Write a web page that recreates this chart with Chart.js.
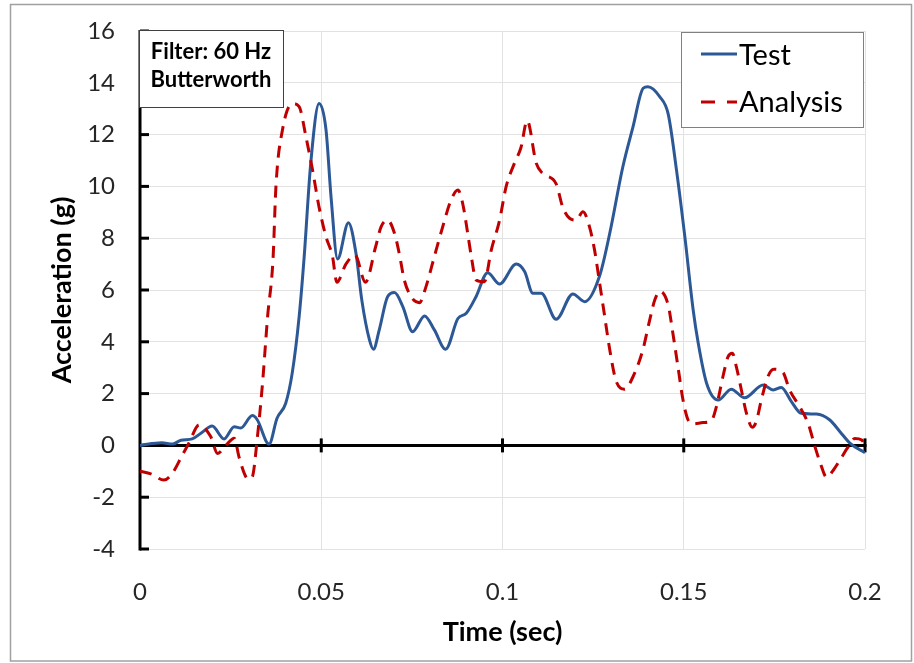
<!DOCTYPE html>
<html><head><meta charset="utf-8">
<script src="https://cdn.jsdelivr.net/npm/chart.js@4.4.0/dist/chart.umd.min.js"></script>
<style>html,body{margin:0;padding:0;background:#fff;}#wrap{width:914px;height:663px;position:relative;}</style>
</head><body><div id="wrap"><canvas id="c" width="914" height="663"></canvas></div>
<script>
// ---- data ----
const testTime = [0, 0.006, 0.009, 0.0113, 0.0144, 0.0168, 0.0199, 0.0232, 0.026, 0.0278, 0.031, 0.0323, 0.0356, 0.0378, 0.0402, 0.042, 0.0439, 0.0453, 0.0471, 0.0494, 0.0513, 0.0527, 0.0545, 0.0575, 0.0596, 0.0612, 0.0633, 0.0644, 0.066, 0.0683, 0.0702, 0.0725, 0.0752, 0.0785, 0.0812, 0.0843, 0.0877, 0.09, 0.0927, 0.0959, 0.0992, 0.1038, 0.1061, 0.1084, 0.1107, 0.1148, 0.1194, 0.1227, 0.1268, 0.1296, 0.1332, 0.136, 0.1388, 0.1401, 0.1434, 0.1457, 0.148, 0.1503, 0.1526, 0.154, 0.1563, 0.1595, 0.1631, 0.1668, 0.1719, 0.1747, 0.1769, 0.1797, 0.1824, 0.1866, 0.1903, 0.1931, 0.1959, 0.2];
const testAccel = [0, 0.1, 0.05, 0.2, 0.25, 0.47, 0.75, 0.25, 0.72, 0.67, 1.15, 1.0, 0.05, 1.05, 1.63, 2.8, 4.97, 7.3, 10.9, 13.2, 12.2, 9.6, 7.2, 8.6, 7.4, 5.6, 4.07, 3.71, 4.46, 5.74, 5.9, 5.36, 4.39, 5.0, 4.46, 3.71, 4.9, 5.1, 5.74, 6.67, 6.23, 7.0, 6.71, 5.87, 5.87, 4.87, 5.85, 5.55, 6.55, 8.2, 10.76, 12.3, 13.79, 13.85, 13.46, 12.8, 10.63, 8.06, 5.23, 3.94, 2.4, 1.75, 2.17, 1.84, 2.33, 2.14, 2.24, 1.69, 1.24, 1.21, 0.98, 0.53, 0.08, -0.28];
const analysisTime = [0, 0.003, 0.0066, 0.0089, 0.0117, 0.0135, 0.0163, 0.0195, 0.0214, 0.0237, 0.026, 0.0273, 0.0292, 0.0301, 0.031, 0.0324, 0.0338, 0.0352, 0.0367, 0.0375, 0.0393, 0.0421, 0.0439, 0.0458, 0.0476, 0.0494, 0.0513, 0.0531, 0.0543, 0.0568, 0.0593, 0.0622, 0.065, 0.0665, 0.0683, 0.0702, 0.0715, 0.0729, 0.0748, 0.0771, 0.0789, 0.0812, 0.0835, 0.0858, 0.0877, 0.089, 0.0904, 0.0914, 0.0927, 0.095, 0.0969, 0.0992, 0.101, 0.1033, 0.1051, 0.1068, 0.1093, 0.1111, 0.1148, 0.1166, 0.1185, 0.1203, 0.1222, 0.124, 0.1254, 0.1268, 0.1282, 0.1296, 0.1314, 0.1337, 0.136, 0.1387, 0.1406, 0.142, 0.1434, 0.1457, 0.147, 0.1484, 0.1498, 0.1512, 0.1526, 0.1553, 0.1576, 0.159, 0.1608, 0.1622, 0.1634, 0.1645, 0.1659, 0.1673, 0.1689, 0.17, 0.1714, 0.1732, 0.1748, 0.1774, 0.1792, 0.182, 0.1843, 0.1862, 0.188, 0.1894, 0.1913, 0.1931, 0.1954, 0.1972, 0.1991, 0.2];
const analysisAccel = [-1.0, -1.1, -1.34, -1.08, -0.37, 0.09, 0.79, 0.34, -0.31, 0.0, 0.28, -0.44, -1.21, -1.3, -1.21, 0.34, 2.4, 4.97, 7.2, 10.0, 12.18, 13.2, 13.08, 11.9, 10.63, 9.2, 8.06, 7.3, 6.3, 7.0, 7.35, 6.3, 7.67, 8.44, 8.7, 8.19, 7.42, 6.39, 5.74, 5.51, 6.13, 7.29, 8.44, 9.47, 9.86, 9.35, 8.19, 7.29, 6.39, 6.32, 7.54, 8.7, 9.99, 10.9, 11.5, 12.54, 10.9, 10.5, 10.1, 9.2, 8.77, 8.7, 9.02, 8.44, 7.54, 6.26, 4.97, 3.68, 2.46, 2.17, 2.65, 3.68, 4.84, 5.61, 5.95, 5.42, 4.33, 3.04, 1.75, 0.98, 0.83, 0.88, 0.95, 1.49, 2.65, 3.42, 3.56, 3.04, 2.14, 1.24, 0.7, 0.92, 1.75, 2.65, 2.94, 2.81, 2.14, 1.49, 0.85, -0.05, -0.82, -1.23, -0.95, -0.56, -0.05, 0.27, 0.21, 0.0];
const seriesNames = ['Test', 'Analysis'];
const xTickValues = [0, 0.05, 0.1, 0.15, 0.2];
const xTickLabels = ['0', '0.05', '0.1', '0.15', '0.2'];
const yTickValues = [-4, -2, 0, 2, 4, 6, 8, 10, 12, 14, 16];
const xAxisTitle = 'Time (sec)';
const yAxisTitle = 'Acceleration (g)';
const noteLines = ['Filter: 60 Hz', 'Butterworth'];

const toPoints = (xs, ys) => xs.map((v, i) => ({x: v, y: ys[i]}));
const FONT = 'Lato';

const decor = {
  id: 'decor',
  beforeDraw(chart) {
    const ctx = chart.ctx;
    ctx.save(); ctx.fillStyle = '#fff'; ctx.fillRect(0, 0, chart.width, chart.height); ctx.restore();
  },
  beforeDatasetsDraw(chart) {
    const {ctx, scales: {x, y}} = chart;
    const x0 = x.getPixelForValue(0), y0 = y.getPixelForValue(0);
    ctx.save();
    ctx.strokeStyle = '#000'; ctx.lineWidth = 3; ctx.lineCap = 'butt';
    ctx.beginPath(); ctx.moveTo(x0, y.getPixelForValue(y.max) - 1); ctx.lineTo(x0, y.getPixelForValue(y.min) + 1.5); ctx.stroke();
    y.ticks.forEach(t => { const py = y.getPixelForValue(t.value); ctx.beginPath(); ctx.moveTo(x0, py); ctx.lineTo(x0 + 9, py); ctx.stroke(); });
    ctx.beginPath(); ctx.moveTo(x0, y0); ctx.lineTo(x.getPixelForValue(x.max) + 1.5, y0); ctx.stroke();
    x.ticks.forEach(t => { if (t.value === 0) return; const px = x.getPixelForValue(t.value); ctx.beginPath(); ctx.moveTo(px, y0 - 7); ctx.lineTo(px, y0 + 7); ctx.stroke(); });
    ctx.restore();
  },
  afterDraw(chart) {
    const ctx = chart.ctx;
    ctx.save();
    // outer border
    ctx.strokeStyle = '#a0a0a0'; ctx.lineWidth = 1.5;
    ctx.strokeRect(10.5, 4.5, 901, 656.5);
    // note box
    ctx.fillStyle = '#fff'; ctx.fillRect(139, 30, 144, 77);
    ctx.strokeStyle = '#404040'; ctx.lineWidth = 1; ctx.strokeRect(139.5, 30.5, 144, 77);
    ctx.fillStyle = '#000'; ctx.font = 'bold 22px ' + FONT; ctx.textAlign = 'center'; ctx.textBaseline = 'alphabetic';
    ctx.fillText(noteLines[0], 211, 59);
    ctx.fillText(noteLines[1], 211, 87);
    // legend
    ctx.fillStyle = '#fff'; ctx.fillRect(681, 32, 182, 95);
    ctx.strokeStyle = '#808080'; ctx.lineWidth = 1; ctx.strokeRect(681.5, 32.5, 182, 95);
    const rows = [54, 102], bases = [65, 112];
    chart.data.datasets.forEach((ds, i) => {
      ctx.strokeStyle = ds.borderColor; ctx.lineWidth = 3;
      ctx.setLineDash(ds.borderDash && ds.borderDash.length ? [14, 12] : []);
      ctx.beginPath(); ctx.moveTo(701, rows[i]); ctx.lineTo(737, rows[i]); ctx.stroke();
      ctx.setLineDash([]);
      ctx.fillStyle = '#000'; ctx.font = '29px ' + FONT; ctx.textAlign = 'left';
      ctx.fillText(ds.label, 739, bases[i]);
    });
    ctx.restore();
  }
};

new Chart(document.getElementById('c'), {
  type: 'scatter',
  data: {
    datasets: [
      {label: seriesNames[0], data: toPoints(testTime, testAccel), showLine: true, borderColor: '#2D5896', borderWidth: 3, pointRadius: 0, cubicInterpolationMode: 'monotone', order: 1},
      {label: seriesNames[1], data: toPoints(analysisTime, analysisAccel), showLine: true, borderColor: '#C00000', borderWidth: 3, borderDash: [12, 8], pointRadius: 0, cubicInterpolationMode: 'monotone', order: 0}
    ]
  },
  options: {
    responsive: false, animation: false, devicePixelRatio: 1,
    layout: {padding: {top: 31, right: 49, left: 0, bottom: 0}},
    plugins: {legend: {display: false}, tooltip: {enabled: false}},
    scales: {
      x: {
        type: 'linear', min: 0, max: 0.2,
        afterBuildTicks: s => { s.ticks = xTickValues.map(v => ({value: v})); },
        afterFit: s => { s.height = 114; s.paddingLeft = 0; s.paddingRight = 0; },
        ticks: {padding: 29, color: '#262626', font: {family: FONT, size: 24},
          callback: v => { const i = xTickValues.findIndex(t => Math.abs(t - v) < 1e-9); return i >= 0 ? xTickLabels[i] : ''; }},
        grid: {color: '#e2e2e2', lineWidth: 1, drawTicks: false},
        border: {display: false},
        title: {display: true, text: xAxisTitle, color: '#000', font: {family: FONT, size: 27, weight: 'bold'}, padding: {top: 0, bottom: 15}}
      },
      y: {
        type: 'linear', min: -4, max: 16,
        afterBuildTicks: s => { s.ticks = yTickValues.map(v => ({value: v})); },
        afterFit: s => { s.width = 140; s.paddingTop = 0; s.paddingBottom = 0; },
        ticks: {padding: 25, color: '#262626', font: {family: FONT, size: 24}, callback: v => String(v)},
        grid: {color: '#e2e2e2', lineWidth: 1, drawTicks: false},
        border: {display: false},
        title: {display: true, text: yAxisTitle, color: '#000', font: {family: FONT, size: 27, weight: 'bold'}, padding: {top: 46, bottom: 0}}
      }
    }
  },
  plugins: [decor]
});
</script></body></html>
